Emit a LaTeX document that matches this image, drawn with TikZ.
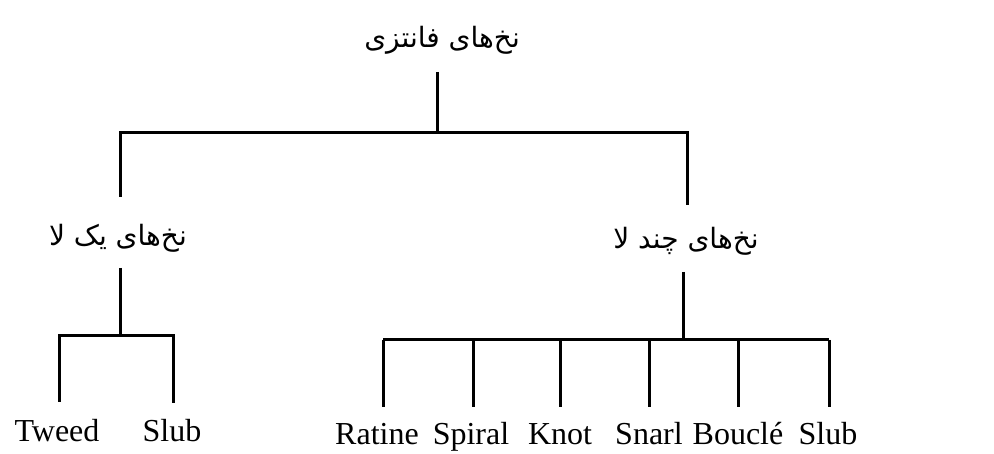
\documentclass[tikz,border=0pt]{standalone}
\usepackage{fontspec}
\setmainfont{Liberation Serif}
\newfontfamily\arabicfont[Script=Arabic]{DejaVu Sans}
\TeXXeTstate=1
\begin{document}
\begin{tikzpicture}[x=1pt,y=-1pt,
  ln/.style={line width=3pt},
  fa/.style={font=\arabicfont\fontsize{28}{32}\selectfont, inner sep=0pt},
  en/.style={font=\fontsize{32}{36}\selectfont, inner sep=0pt, anchor=base}]
\useasboundingbox (0,0) rectangle (994,454);
% texts
\node[fa] (root) at (442,40) {\beginR نخ‌های فانتزی\endR};
\node[fa] (single) at (118,238) {\beginR نخ‌های یک لا\endR};
\node[fa] (multi) at (686,241) {\beginR نخ‌های چند لا\endR};
\node[en] (tweed) at (57,442) {Tweed};
\node[en] (slubA) at (172,442) {Slub};
\node[en] (ratine) at (377,445) {Ratine};
\node[en] (spiral) at (471,445) {Spiral};
\node[en] (knot) at (560,445) {Knot};
\node[en] (snarl) at (649,445) {Snarl};
\node[en] (boucle) at (738,445) {Bouclé};
\node[en] (slubB) at (828,445) {Slub};
% junction coordinates
\coordinate (r1) at (437,72);
\coordinate (r2) at (437,133);
\coordinate (hl) at (120,133);
\coordinate (hr) at (687,133);
\coordinate (sl) at (120,197);
\coordinate (sr) at (687,205);
% root level
\draw[ln] (r1) -- (r2);
\draw[ln] (sl) -- (hl) -- (hr) -- (sr);
% single-ply branch
\coordinate (s1) at (120,268);
\coordinate (s2) at (120,336);
\coordinate (sa) at (59,336);
\coordinate (sb) at (173,336);
\draw[ln] (s1) -- (s2);
\draw[ln] (59,402) -- (sa) -- (sb) -- (173,403);
% multi-ply branch
\coordinate (m1) at (683,272);
\coordinate (m2) at (683,340);
\draw[ln] (m1) -- (m2);
\draw[ln] (383,340) -- (829,340);
\foreach \x in {383,473,560,649,738,829}{
  \draw[ln] (\x,340) -- (\x,407);
}
\end{tikzpicture}
\end{document}
